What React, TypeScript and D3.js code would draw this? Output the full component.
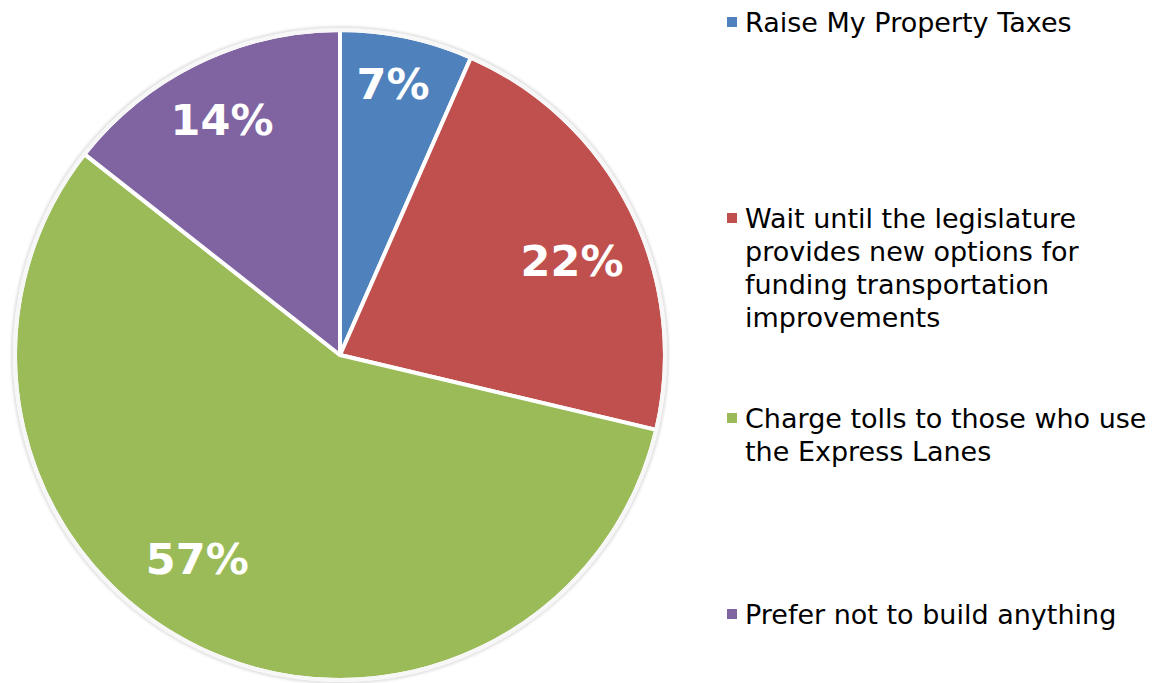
import React from "react";
import * as d3 from "d3";

const categories = [
  "Raise My Property Taxes",
  "Wait until the legislature provides new options for funding transportation improvements",
  "Charge tolls to those who use the Express Lanes",
  "Prefer not to build anything",
];
const legendLines = [
  ["Raise My Property Taxes"],
  ["Wait until the legislature", "provides new options for", "funding transportation", "improvements"],
  ["Charge tolls to those who use", "the Express Lanes"],
  ["Prefer not to build anything"],
];
const values = [6.6, 22.1, 56.9, 14.4];
const colors = ["#4F81BD", "#C0504D", "#9BBB59", "#8064A2"];

const W = 1156;
const H = 683;
const cx = 340;
const cy = 355;
const R = 325;
const labelR = [0.85, 0.77, 0.765, 0.81];
const labelDa = [-0.8, 4.5, 9.3, -0.7];
const legendY = [22, 218, 418, 614];
const lineH = 33;

export default function App() {
  const pie = d3.pie<number>().sort(null).value((d) => d)(values);
  const arc = d3.arc<d3.PieArcDatum<number>>().innerRadius(0).outerRadius(R);
  return (
    <svg width={W} height={H} style={{ position: "absolute", left: 0, top: 0, background: "#fff" }}>
      <defs>
        <filter id="sh" x="-10%" y="-10%" width="120%" height="120%">
          <feGaussianBlur stdDeviation="1.5" />
        </filter>
      </defs>
      <g transform={`translate(${cx},${cy})`}>
        <circle r={R + 2} fill="none" stroke="#d8d8d8" strokeWidth={3} filter="url(#sh)" />
        {pie.map((p, i) => (
          <path key={i} d={arc(p) || ""} fill={colors[i]} stroke="#fff" strokeWidth={4} strokeLinejoin="round" />
        ))}
        <circle r={R} fill="none" stroke="#f7f7f7" strokeWidth={4} />
        {pie.map((p, i) => {
          const a = (p.startAngle + p.endAngle) / 2 + (labelDa[i] * Math.PI) / 180;
          const r = R * labelR[i];
          return (
            <text
              key={i}
              x={r * Math.sin(a)}
              y={-r * Math.cos(a)}
              textAnchor="middle"
              dominantBaseline="central"
              fill="#fff"
              fontFamily="'DejaVu Sans', sans-serif"
              fontWeight={700}
              fontSize={43}
            >
              {Math.round(p.data)}%
            </text>
          );
        })}
      </g>
      {categories.map((c, i) => (
        <g key={c}>
          <rect x={727} y={legendY[i] - 5} width={10} height={10} fill={colors[i]} />
          <text fontFamily="'DejaVu Sans', sans-serif" fontSize={27} fill="#000">
            {legendLines[i].map((l, j) => (
              <tspan key={j} x={745} y={legendY[i] + j * lineH} dominantBaseline="central">
                {l}
              </tspan>
            ))}
          </text>
        </g>
      ))}
    </svg>
  );
}
